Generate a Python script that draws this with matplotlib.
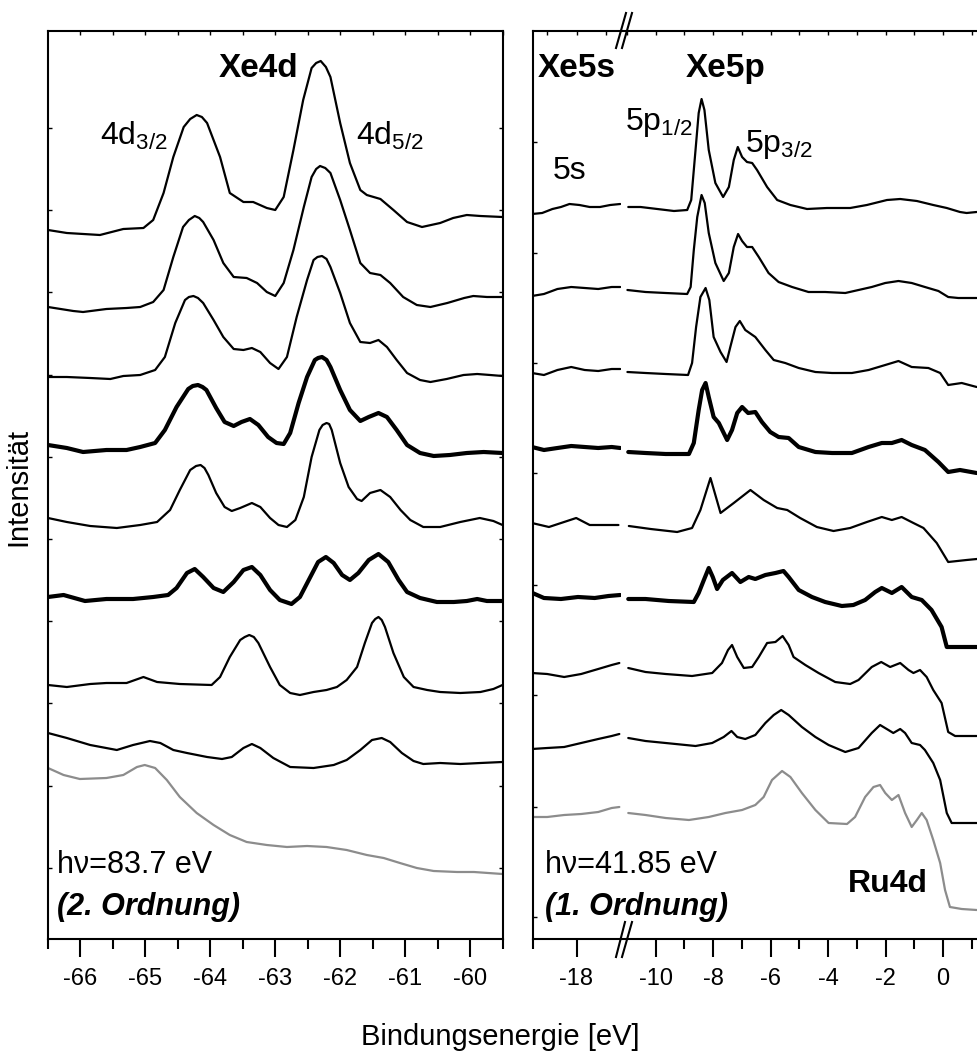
import matplotlib
matplotlib.use("Agg")
import matplotlib.pyplot as plt
from matplotlib.lines import Line2D
from matplotlib.ticker import MultipleLocator, FixedLocator, FormatStrFormatter

# ==========================================
# 1. Data (binding energy [eV], intensity [arb. units, stacked])
# ==========================================
# --- Xe4d, hv = 83.7 eV (2nd order), top to bottom ---
L1_E = [-66.50, -66.21, -65.70, -65.34, -65.03, -64.88, -64.72, -64.57, -64.41, -64.31, -64.21, -64.13,
        -64.05, -63.85, -63.70, -63.49, -63.34, -63.13, -63.00, -62.87, -62.72, -62.57, -62.44, -62.37,
        -62.30, -62.22, -62.15, -62.00, -61.85, -61.69, -61.59, -61.38, -61.18, -60.97, -60.74, -60.46,
        -60.26, -60.05, -59.84, -59.50]
L1_I = [709, 706, 704, 710, 711, 719, 746, 782, 812, 820, 824, 822, 816, 782, 746, 737, 737, 731, 729,
        742, 789, 839, 871, 876, 878, 872, 862, 816, 776, 749, 744, 740, 729, 717, 712, 716, 721, 724,
        723, 722]

L2_E = [-66.50, -66.11, -65.96, -65.60, -65.29, -65.08, -64.88, -64.72, -64.57, -64.42, -64.33, -64.24,
        -64.17, -64.11, -63.95, -63.80, -63.64, -63.44, -63.28, -63.13, -63.00, -62.87, -62.72, -62.56,
        -62.44, -62.37, -62.31, -62.23, -62.15, -62.00, -61.85, -61.69, -61.54, -61.38, -61.23, -61.03,
        -60.82, -60.61, -60.35, -60.09, -59.95, -59.74, -59.50]
L2_I = [632, 628, 627, 630, 631, 632, 637, 649, 682, 712, 719, 723, 721, 717, 699, 676, 662, 661, 656,
        647, 643, 656, 689, 732, 762, 770, 773, 771, 766, 739, 709, 676, 666, 664, 656, 642, 634, 632,
        636, 641, 643, 642, 642]

L3_E = [-66.50, -66.21, -65.85, -65.54, -65.34, -65.08, -64.85, -64.70, -64.54, -64.39, -64.33, -64.26,
        -64.19, -64.11, -63.95, -63.80, -63.64, -63.49, -63.36, -63.23, -63.08, -62.95, -62.82, -62.67,
        -62.51, -62.41, -62.35, -62.28, -62.21, -62.15, -62.00, -61.85, -61.69, -61.54, -61.41, -61.28,
        -61.13, -60.97, -60.77, -60.61, -60.36, -60.10, -59.89, -59.69, -59.50]
L3_I = [562, 562, 561, 560, 563, 564, 569, 582, 616, 639, 642, 643, 641, 636, 619, 602, 590, 589, 591,
        587, 576, 570, 582, 622, 659, 679, 682, 683, 680, 672, 646, 616, 597, 596, 599, 592, 579, 566,
        559, 557, 560, 564, 565, 564, 563]

L4_E = [-66.50, -66.21, -65.96, -65.60, -65.29, -65.08, -64.85, -64.70, -64.52, -64.34, -64.27, -64.19,
        -64.12, -64.06, -63.91, -63.78, -63.64, -63.52, -63.39, -63.26, -63.11, -62.98, -62.87, -62.77,
        -62.64, -62.51, -62.39, -62.34, -62.28, -62.21, -62.15, -62.00, -61.85, -61.69, -61.56, -61.41,
        -61.28, -61.13, -60.97, -60.77, -60.56, -60.31, -60.05, -59.79, -59.50]
L4_I = [494, 491, 487, 489, 489, 492, 496, 509, 532, 550, 553, 554, 552, 549, 531, 517, 513, 517, 520,
        514, 502, 496, 495, 506, 536, 562, 579, 581, 582, 579, 572, 549, 529, 518, 522, 526, 522, 509,
        494, 486, 483, 484, 486, 487, 486]

L5_E = [-66.50, -66.21, -65.85, -65.44, -65.08, -64.82, -64.62, -64.47, -64.31, -64.22, -64.15, -64.09,
        -64.03, -63.91, -63.78, -63.67, -63.54, -63.36, -63.23, -63.08, -62.95, -62.82, -62.69, -62.56,
        -62.44, -62.32, -62.27, -62.21, -62.17, -62.13, -62.00, -61.87, -61.74, -61.67, -61.54, -61.38,
        -61.23, -61.07, -60.92, -60.72, -60.46, -60.15, -59.85, -59.64, -59.50]
L5_I = [421, 417, 413, 411, 414, 417, 429, 449, 469, 473, 474, 471, 464, 446, 432, 428, 431, 436, 432,
        421, 414, 412, 419, 442, 482, 509, 514, 516, 515, 509, 476, 452, 440, 438, 446, 449, 442, 429,
        419, 412, 412, 417, 421, 418, 414]

L6_E = [-66.50, -66.26, -65.93, -65.60, -65.19, -64.88, -64.65, -64.52, -64.36, -64.24, -64.11, -63.95,
        -63.80, -63.64, -63.49, -63.36, -63.23, -63.08, -62.93, -62.75, -62.62, -62.46, -62.34, -62.22,
        -62.10, -61.97, -61.85, -61.72, -61.56, -61.41, -61.26, -61.10, -60.97, -60.77, -60.51, -60.25,
        -60.05, -59.89, -59.74, -59.50]
L6_I = [342, 344, 338, 340, 340, 342, 344, 351, 366, 370, 362, 351, 347, 357, 369, 372, 364, 349, 339,
        335, 342, 362, 377, 382, 376, 364, 359, 366, 379, 385, 377, 359, 347, 341, 337, 337, 338, 340,
        338, 338]

L7_E = [-66.50, -66.21, -65.85, -65.60, -65.29, -65.03, -64.82, -64.47, -63.98, -63.85, -63.70, -63.54,
        -63.47, -63.40, -63.33, -63.26, -63.08, -62.93, -62.77, -62.62, -62.41, -62.21, -62.05, -61.90,
        -61.74, -61.62, -61.51, -61.46, -61.41, -61.36, -61.31, -61.18, -61.02, -60.87, -60.66, -60.46,
        -60.15, -59.84, -59.64, -59.50]
L7_I = [254, 252, 255, 256, 256, 262, 257, 255, 254, 262, 282, 299, 302, 304, 302, 296, 272, 254, 246,
        244, 247, 249, 252, 259, 272, 296, 316, 320, 322, 319, 312, 286, 262, 252, 249, 247, 246, 247,
        250, 254]

L8_E = [-66.50, -66.21, -65.85, -65.44, -65.19, -64.93, -64.77, -64.57, -64.36, -64.05, -63.82, -63.67,
        -63.49, -63.36, -63.23, -63.03, -62.77, -62.41, -62.10, -61.90, -61.69, -61.51, -61.36, -61.23,
        -61.05, -60.87, -60.72, -60.46, -60.15, -59.84, -59.50]
L8_I = [206, 201, 194, 189, 194, 198, 196, 189, 186, 182, 180, 182, 191, 195, 191, 181, 172, 171, 174,
        179, 189, 199, 201, 197, 186, 178, 175, 176, 175, 176, 177]

L9_E = [-66.50, -66.26, -66.01, -65.60, -65.34, -65.13, -65.01, -64.85, -64.67, -64.47, -64.21, -63.95,
        -63.70, -63.44, -63.13, -62.82, -62.51, -62.21, -61.90, -61.59, -61.33, -61.08, -60.82, -60.56,
        -60.20, -59.94, -59.50]
L9_I = [171, 164, 160, 161, 164, 172, 174, 171, 159, 142, 126, 114, 104, 97, 94, 92, 93, 92, 89, 84,
        81, 76, 71, 68, 67, 67, 65]

# --- Xe5s region, hv = 41.85 eV (1st order) ---
R1S_E = [-19.52, -19.17, -18.82, -18.53, -18.24, -17.90, -17.55, -17.20, -16.85, -16.51]
R1S_I = [725, 726, 730, 732, 735, 734, 732, 732, 734, 735]
RS_E = [-19.52, -19.11, -18.65, -18.18, -17.72, -17.26, -16.80, -16.51]
R2S_I = [643, 645, 650, 652, 651, 650, 652, 652]
R3S_I = [566, 564, 569, 572, 569, 568, 570, 570]
R4S_I = [492, 489, 491, 493, 492, 491, 492, 491]
R5S_E = [-19.52, -18.94, -18.01, -17.55, -16.57]
R5S_I = [416, 412, 421, 414, 414]
R6S_E = [-19.50, -19.11, -18.53, -17.95, -17.38, -16.91, -16.51]
R6S_I = [346, 341, 340, 342, 341, 343, 344]
R7S_E = [-19.52, -19.00, -18.42, -17.84, -17.26, -16.80, -16.54]
R7S_I = [266, 265, 262, 265, 270, 274, 276]
R8S_I = [190, 191, 192, 196, 200, 203, 205]
R9S_I = [122, 122, 124, 125, 127, 131, 132]

# --- Xe5p / Ru4d valence region ---
R1_E = [-10.95, -10.52, -9.94, -9.36, -8.90, -8.76, -8.61, -8.50, -8.40, -8.30, -8.15, -7.92, -7.65,
        -7.45, -7.28, -7.14, -6.99, -6.82, -6.64, -6.47, -6.12, -5.77, -5.31, -4.73, -4.04, -3.23, -2.65,
        -1.95, -1.49, -0.91, -0.34, 0.13, 0.59, 0.82, 1.17]
R1_I = [732, 732, 730, 728, 729, 739, 789, 826, 840, 829, 789, 756, 742, 752, 779, 792, 782, 777, 776,
        769, 752, 739, 734, 730, 731, 731, 734, 739, 740, 738, 734, 731, 727, 726, 727]

R2_E = [-10.98, -10.35, -9.65, -8.90, -8.78, -8.67, -8.55, -8.40, -8.29, -8.15, -7.92, -7.63, -7.45,
        -7.28, -7.13, -6.99, -6.82, -6.64, -6.41, -6.07, -5.72, -5.25, -4.68, -4.10, -3.40, -2.94, -2.48,
        -2.01, -1.55, -1.09, -0.63, -0.16, 0.18, 0.53, 1.17]
R2_I = [649, 647, 646, 645, 652, 689, 722, 744, 736, 706, 676, 658, 666, 692, 705, 698, 692, 692, 682,
        666, 657, 652, 647, 647, 646, 649, 652, 656, 658, 656, 652, 648, 642, 641, 641]

R3_E = [-10.98, -10.35, -9.65, -8.87, -8.73, -8.59, -8.44, -8.26, -8.13, -7.98, -7.74, -7.53, -7.40,
        -7.22, -7.07, -6.88, -6.53, -6.18, -5.89, -5.49, -5.02, -4.44, -3.86, -3.17, -2.59, -2.01, -1.55,
        -1.09, -0.51, -0.10, 0.18, 0.65, 1.17]
R3_I = [567, 566, 565, 564, 576, 612, 642, 651, 639, 602, 587, 577, 592, 612, 618, 609, 602, 589, 579,
        576, 571, 567, 566, 566, 569, 574, 578, 572, 571, 566, 554, 556, 552]

R4_E = [-10.95, -10.35, -9.65, -8.84, -8.67, -8.50, -8.38, -8.26, -8.15, -7.98, -7.80, -7.51, -7.34,
        -7.16, -6.99, -6.78, -6.53, -6.30, -6.01, -5.72, -5.37, -5.02, -4.44, -3.86, -3.17, -2.59, -2.13,
        -1.78, -1.44, -1.09, -0.63, -0.16, 0.18, 0.59, 1.17]
R4_I = [487, 486, 485, 485, 496, 529, 549, 556, 542, 522, 516, 499, 509, 526, 532, 526, 527, 517, 507,
        502, 501, 492, 487, 486, 486, 492, 496, 496, 499, 494, 489, 477, 467, 469, 466]

R5_E = [-10.93, -10.17, -9.25, -8.73, -8.44, -8.09, -7.74, -7.28, -6.70, -6.24, -5.77, -5.42, -4.97,
        -4.39, -3.81, -3.23, -2.65, -2.13, -1.78, -1.44, -1.03, -0.68, -0.22, 0.18, 0.82, 1.18]
R5_I = [413, 410, 407, 411, 429, 461, 426, 436, 449, 439, 431, 429, 421, 412, 408, 411, 417, 422, 419,
        422, 416, 411, 396, 377, 379, 380]

R6_E = [-10.95, -10.35, -9.54, -8.67, -8.50, -8.32, -8.15, -8.01, -7.86, -7.66, -7.34, -7.05, -6.76,
        -6.53, -6.18, -5.83, -5.55, -5.37, -5.02, -4.56, -4.10, -3.52, -3.12, -2.71, -2.36, -2.13, -1.78,
        -1.44, -1.09, -0.74, -0.40, -0.05, 0.13, 0.53, 1.17]
R6_I = [340, 340, 338, 337, 346, 359, 371, 362, 350, 359, 366, 357, 362, 360, 364, 366, 368, 362, 349,
        342, 337, 333, 334, 339, 347, 351, 346, 352, 342, 339, 329, 312, 292, 292, 292]

R7_E = [-10.95, -10.35, -9.65, -8.73, -8.03, -7.69, -7.48, -7.34, -7.16, -6.93, -6.64, -6.41, -6.12,
        -5.83, -5.58, -5.37, -5.20, -4.79, -4.33, -3.75, -3.23, -2.94, -2.48, -2.15, -1.84, -1.49, -1.20,
        -1.03, -0.80, -0.57, -0.34, -0.05, 0.18, 0.42, 1.17]
R7_I = [271, 267, 265, 263, 266, 276, 289, 294, 282, 271, 272, 282, 296, 297, 303, 294, 282, 274, 266,
        257, 255, 259, 272, 277, 272, 276, 269, 266, 269, 262, 249, 236, 207, 203, 203]

R8_E = [-10.95, -10.35, -9.65, -8.61, -8.03, -7.63, -7.36, -7.16, -6.88, -6.53, -6.18, -5.89, -5.63,
        -5.37, -4.91, -4.44, -3.98, -3.40, -2.94, -2.48, -2.19, -1.90, -1.73, -1.49, -1.32, -1.09, -0.80,
        -0.63, -0.34, -0.10, 0.13, 0.30, 1.17]
R8_I = [201, 198, 196, 193, 196, 202, 208, 202, 200, 204, 216, 224, 229, 224, 212, 202, 194, 187, 191,
        206, 214, 209, 206, 210, 206, 196, 194, 189, 176, 159, 126, 116, 116]

R9_E = [-10.95, -10.35, -9.65, -8.84, -8.15, -7.57, -6.99, -6.53, -6.24, -5.95, -5.60, -5.31, -4.91,
        -4.44, -3.98, -3.34, -3.06, -2.71, -2.42, -2.19, -2.01, -1.78, -1.55, -1.32, -1.09, -0.91, -0.74,
        -0.57, -0.34, -0.10, 0.07, 0.24, 0.65, 1.17]
R9_I = [126, 124, 121, 119, 122, 126, 129, 134, 142, 159, 168, 162, 146, 129, 116, 115, 122, 142, 152,
        154, 146, 139, 144, 126, 112, 119, 126, 119, 99, 76, 49, 32, 30, 29]

# line style per trace (top to bottom)
STYLES = ["thin", "thin", "thin", "thick", "thin", "thick", "thin", "thin", "grey"]
LEFT_TICKS_Y = [811, 729, 647, 564, 482, 400, 318, 236, 153, 71]
RIGHT_TICKS_Y = [797, 686, 576, 466, 354, 244, 132, 22]

# ==========================================
# 2. Figure setup
# ==========================================
plt.rcParams["font.family"] = ["Liberation Sans", "DejaVu Sans"]
plt.rcParams["mathtext.fontset"] = "custom"
plt.rcParams["mathtext.rm"] = "Liberation Sans"
plt.rcParams["axes.unicode_minus"] = False
plt.rcParams["axes.linewidth"] = 1.5

W, H = 977, 1053
fig = plt.figure(figsize=(W / 100, H / 100), dpi=100)


def px_box(x0, y0, x1, y1):
    return [x0 / W, 1 - y1 / H, (x1 - x0) / W, (y1 - y0) / H]


ax_l = fig.add_axes(px_box(48, 31, 502.5, 939))
ax_s = fig.add_axes(px_box(532.5, 31, 620.5, 939))
ax_p = fig.add_axes(px_box(620.5, 31, 985, 939))

style_kw = {
    "thin": dict(color="black", lw=1.6),
    "thick": dict(color="black", lw=3.0),
    "grey": dict(color="#8c8c8c", lw=1.6),
}

left = [(L1_E, L1_I), (L2_E, L2_I), (L3_E, L3_I), (L4_E, L4_I), (L5_E, L5_I),
        (L6_E, L6_I), (L7_E, L7_I), (L8_E, L8_I), (L9_E, L9_I)]
five_s = [(R1S_E, R1S_I), (RS_E, R2S_I), (RS_E, R3S_I), (RS_E, R4S_I), (R5S_E, R5S_I),
          (R6S_E, R6S_I), (R7S_E, R7S_I), (R7S_E, R8S_I), (R7S_E, R9S_I)]
valence = [(R1_E, R1_I), (R2_E, R2_I), (R3_E, R3_I), (R4_E, R4_I), (R5_E, R5_I),
           (R6_E, R6_I), (R7_E, R7_I), (R8_E, R8_I), (R9_E, R9_I)]

for ax, traces in ((ax_l, left), (ax_s, five_s), (ax_p, valence)):
    for st, (e, i) in zip(STYLES, traces):
        ax.plot(e, i, solid_joinstyle="round", solid_capstyle="round", **style_kw[st])

# ==========================================
# 3. Axes, ticks, broken axis
# ==========================================
for ax in (ax_l, ax_s, ax_p):
    ax.set_ylim(0, 908)
    ax.patch.set_visible(False)
    ax.tick_params(axis="x", which="major", direction="out", length=13, width=1.5,
                   labelsize=17, pad=8, top=False)
    ax.tick_params(axis="x", which="minor", direction="out", length=7, width=1.5, top=False)
    ax.xaxis.set_major_formatter(FormatStrFormatter("%d"))

ax_l.set_xlim(-66.5, -59.5)
ax_l.xaxis.set_major_locator(MultipleLocator(1))
ax_l.xaxis.set_minor_locator(MultipleLocator(0.5))
ax_l.set_yticks(LEFT_TICKS_Y)
ax_l.tick_params(axis="y", direction="in", length=3, width=1, left=True, right=True,
                 labelleft=False)

ax_s.set_xlim(-19.5, -16.5)
ax_s.xaxis.set_major_locator(FixedLocator([-18]))
ax_s.xaxis.set_minor_locator(FixedLocator([-19.5]))
ax_s.spines["right"].set_visible(False)
ax_s.set_yticks(RIGHT_TICKS_Y)
ax_s.tick_params(axis="y", direction="in", length=3, width=1, left=True, right=False,
                 labelleft=False)

ax_p.set_xlim(-11.22, 1.46)
ax_p.xaxis.set_major_locator(FixedLocator([-10, -8, -6, -4, -2, 0]))
ax_p.xaxis.set_minor_locator(FixedLocator([-9, -7, -5, -3, -1, 1]))
ax_p.spines["left"].set_visible(False)
ax_p.set_yticks([])

# small inward ticks along the top edge
for ax, pos in ((ax_l, [v / 2 for v in range(-132, -118)]),
                (ax_s, [-19, -18, -17]),
                (ax_p, list(range(-11, 2)))):
    sec = ax.secondary_xaxis("top")
    sec.set_xticks(pos)
    sec.tick_params(direction="in", length=3, width=1, labeltop=False)
    sec.spines["top"].set_visible(False)

# break marks "//"
for (x0, y0, x1, y1) in [(616, 48, 626, 13), (622, 48, 632, 13),
                         (616, 957, 625, 922), (622, 957, 632, 922)]:
    fig.add_artist(Line2D([x0 / W, x1 / W], [1 - y0 / H, 1 - y1 / H], color="black", lw=1.5))

# ==========================================
# 4. Labels
# ==========================================
ax_l.text(-63.26, 862, "Xe4d", ha="center", va="baseline", fontsize=24, fontweight="bold")
ax_l.text(-65.70, 794, r"4d$_{\mathrm{3/2}}$", va="baseline", fontsize=23)
ax_l.text(-61.76, 794, r"4d$_{\mathrm{5/2}}$", va="baseline", fontsize=23)
ax_l.text(-66.36, 66, "h\u03bd=83.7 eV", va="baseline", fontsize=22)
ax_l.text(-66.36, 24, "(2. Ordnung)", va="baseline", fontsize=22, fontweight="bold", style="italic")

ax_s.text(-19.33, 862, "Xe5s", va="baseline", fontsize=24, fontweight="bold")
ax_s.text(-18.82, 760, "5s", va="baseline", fontsize=23)
ax_s.text(-19.09, 66, "h\u03bd=41.85 eV", va="baseline", fontsize=22)
ax_s.text(-19.09, 24, "(1. Ordnung)", va="baseline", fontsize=22, fontweight="bold", style="italic")

ax_p.text(-8.95, 862, "Xe5p", va="baseline", fontsize=24, fontweight="bold")
ax_p.text(-11.07, 809, r"5p$_{\mathrm{1/2}}$", va="baseline", fontsize=23)
ax_p.text(-6.89, 787, r"5p$_{\mathrm{3/2}}$", va="baseline", fontsize=23)
ax_p.text(-3.31, 47, "Ru4d", va="baseline", fontsize=23, fontweight="bold")

fig.text(500 / W, 1 - 1045 / H, "Bindungsenergie [eV]", ha="center", va="baseline", fontsize=21)
fig.text(18 / W, 1 - 487 / H, "Intensität", rotation=90, ha="center", va="center", fontsize=21)

fig.savefig("out.png", dpi=100)
